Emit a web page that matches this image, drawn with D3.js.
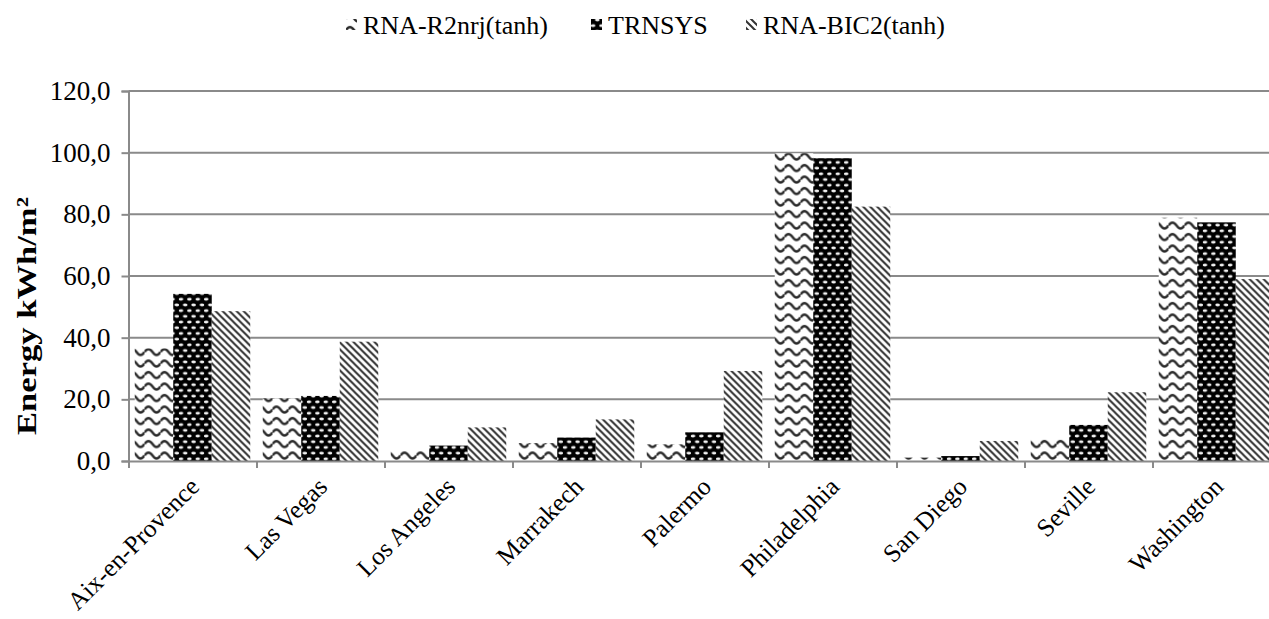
<!DOCTYPE html>
<html><head><meta charset="utf-8">
<script src="https://cdn.jsdelivr.net/npm/d3@7"></script>
<style>html,body{margin:0;padding:0;background:#fff;}svg{display:block;}svg text{font-family:"Liberation Serif","Times New Roman",serif;}</style>
</head><body>
<svg id="chart" width="1269" height="619"></svg>
<script>
const categories = ["Aix-en-Provence","Las Vegas","Los Angeles","Marrakech","Palermo","Philadelphia","San Diego","Seville","Washington"];
const seriesNames = ["RNA-R2nrj(tanh)","TRNSYS","RNA-BIC2(tanh)"];
const r2nrj  = [36.5, 20.3, 3.6, 5.8, 5.4, 99.8, 1.1, 7.7, 78.9];
const trnsys = [54.2, 21.1, 5.0, 7.6, 9.3, 98.2, 1.6, 11.7, 77.4];
const bic2   = [48.6, 38.7, 10.9, 13.5, 29.2, 82.5, 6.5, 22.3, 59.0];
const yTicks = [0, 20, 40, 60, 80, 100, 120];
const yTitle = "Energy kWh/m²";

const seriesValues = [r2nrj, trnsys, bic2];
const patternIds = ["pWave","pDots","pStripe"];
const FONT = '"Liberation Serif","Times New Roman",serif';

const svg = d3.select("#chart");
const defs = svg.append("defs");

// wave pattern
const pw = defs.append("pattern").attr("id","pWave").attr("patternUnits","userSpaceOnUse")
  .attr("width",16).attr("height",11.5);
pw.append("rect").attr("width",16).attr("height",11.5).attr("fill","#fff");
pw.append("path").attr("d","M0,7 Q4,1 8,7 T16,7").attr("fill","none")
  .attr("stroke","#2a2a2a").attr("stroke-width",2.4);

// dots pattern
const pd = defs.append("pattern").attr("id","pDots").attr("patternUnits","userSpaceOnUse")
  .attr("width",8.4).attr("height",11.4);
pd.append("rect").attr("width",8.4).attr("height",11.4).attr("fill","#000");
pd.append("ellipse").attr("cx",2.1).attr("cy",2.85).attr("rx",2.3).attr("ry",1.4).attr("fill","#f2f2f2");
pd.append("ellipse").attr("cx",6.3).attr("cy",8.55).attr("rx",2.3).attr("ry",1.4).attr("fill","#f2f2f2");

// stripe pattern
const ps = defs.append("pattern").attr("id","pStripe").attr("patternUnits","userSpaceOnUse")
  .attr("width",7).attr("height",7);
ps.append("rect").attr("width",7).attr("height",7).attr("fill","#fff");
ps.append("path").attr("d","M-1,-1 L8,8 M-1,6 L1,8 M6,-1 L8,1").attr("stroke","#333").attr("stroke-width",2);

const x0 = 128.5, band = 128;
const x = d3.scaleBand().domain(categories).range([x0, x0 + band*categories.length]).paddingInner(0).paddingOuter(0);
const xs = d3.scaleBand().domain(seriesNames).range([6.25, band-6.25]).padding(0);
const y = d3.scaleLinear().domain([0,120]).range([461, 91]);

const gridColor = "#8a8a8a";

// gridlines
svg.append("g").selectAll("line").data(yTicks.filter(d=>d>0)).join("line")
  .attr("x1", x0).attr("x2", 1269).attr("y1", d=>y(d)).attr("y2", d=>y(d))
  .attr("stroke", gridColor).attr("stroke-width", 2);

// bars
const groups = svg.append("g").selectAll("g").data(categories).join("g")
  .attr("transform", c => `translate(${x(c)},0)`);
groups.selectAll("rect").data((c,i) => seriesNames.map((s,j)=>({s, j, v: seriesValues[j][i]}))).join("rect")
  .attr("x", d => xs(d.s)).attr("width", xs.bandwidth())
  .attr("y", d => y(d.v)).attr("height", d => y(0) - y(d.v))
  .attr("fill", d => `url(#${patternIds[d.j]})`);

// y axis
const yAxis = d3.axisLeft(y).tickValues(yTicks).tickSize(7).tickPadding(11)
  .tickFormat(d => d3.format(".1f")(d).replace(".", ","));
const gy = svg.append("g").attr("transform", `translate(${x0},0)`).call(yAxis)
  .attr("font-family", FONT).attr("font-size", 27);
gy.select(".domain").attr("stroke", gridColor).attr("stroke-width", 2);
gy.selectAll(".tick line").attr("stroke", gridColor).attr("stroke-width", 2);
gy.selectAll(".tick text").attr("fill", "#000");

// x axis
const xAxis = d3.axisBottom(d3.scaleLinear().domain([0, categories.length]).range([x0, x0 + band*categories.length]))
  .tickValues(d3.range(categories.length+1)).tickSize(7).tickFormat("");
const gx = svg.append("g").attr("transform", `translate(0,${y(0)})`).call(xAxis);
gx.select(".domain").attr("stroke", gridColor).attr("stroke-width", 2);
gx.selectAll(".tick line").attr("stroke", gridColor).attr("stroke-width", 2);

// x labels
svg.append("g").selectAll("text").data(categories).join("text")
  .attr("transform", c => `translate(${x(c) + band/2 + 2},${y(0) + 21}) rotate(-45)`)
  .attr("text-anchor", "end").attr("dy", "0.35em")
  .attr("font-family", FONT).attr("font-size", 25.5).attr("fill", "#000").text(c => c);

// y title
svg.append("text")
  .attr("transform", "translate(36,316) rotate(-90)")
  .attr("text-anchor", "middle").attr("font-size", 28).attr("font-weight", "bold")
  .attr("font-family", FONT)
  .attr("textLength", 238).attr("lengthAdjust", "spacingAndGlyphs")
  .text(yTitle);

// legend
const legX = [346, 591, 746];
const leg = svg.append("g").selectAll("g").data(seriesNames).join("g")
  .attr("transform", (d,i) => `translate(${legX[i]},0)`);
leg.append("rect").attr("x", 0).attr("y", 19).attr("width", 11).attr("height", 11)
  .attr("fill", (d,i) => `url(#${patternIds[i]})`);
leg.append("text").attr("x", 17).attr("y", 34).attr("font-family", FONT)
  .attr("font-size", 26).attr("fill", "#000").text(d => d);
</script>
</body></html>
